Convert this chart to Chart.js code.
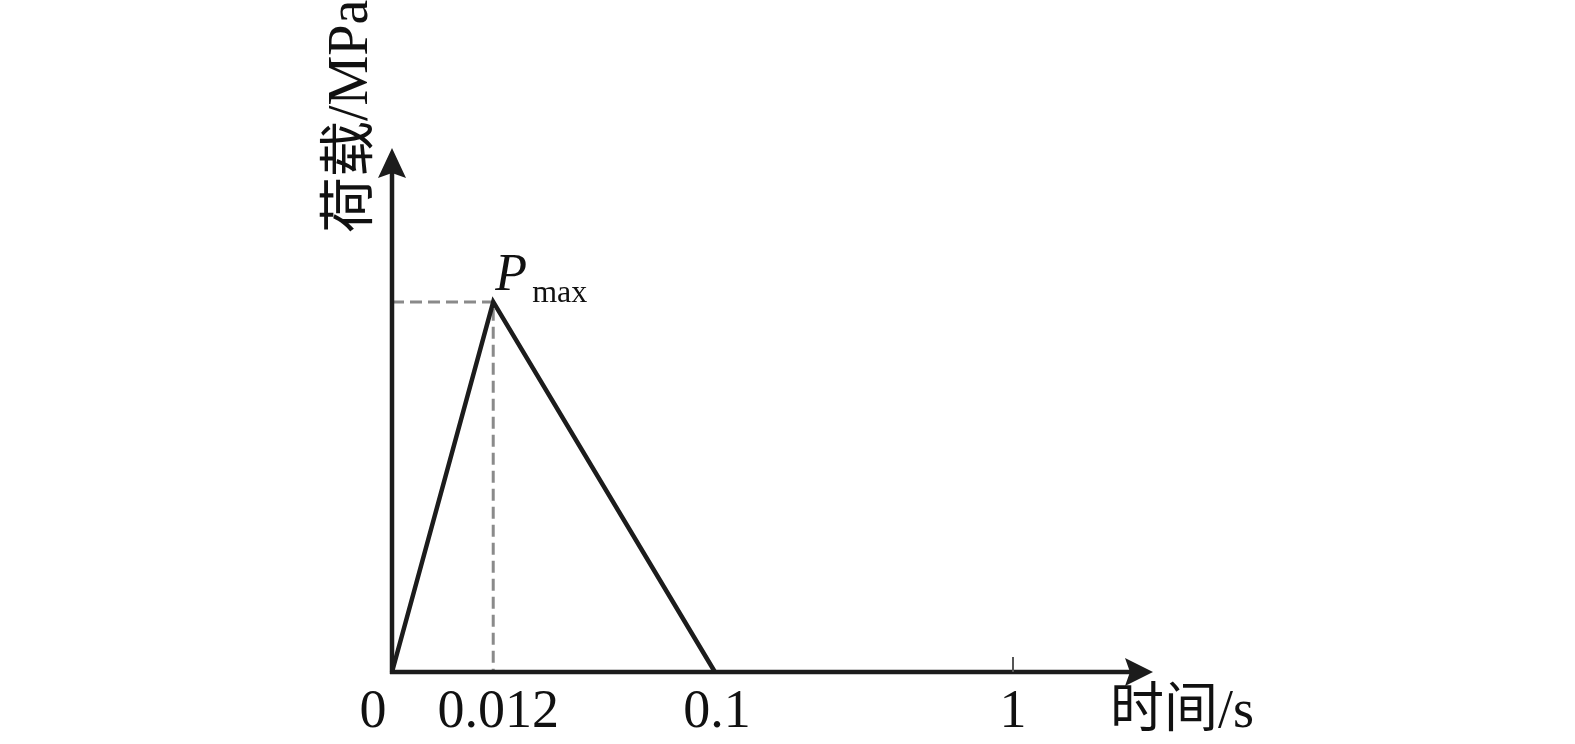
<!DOCTYPE html>
<html>
<head>
<meta charset="utf-8">
<title>荷载-时间</title>
<script src="https://cdn.jsdelivr.net/npm/chart.js@4"></script>
<style>
  html, body { margin: 0; padding: 0; background: #fff; }
  canvas { display: block; }
</style>
</head>
<body>
<canvas id="loadChart" width="1575" height="744"></canvas>
<script>
// time ticks (schematic, not to scale) and where they sit along the axis
const timeLabels = ["0", "0.012", "0.1", "1"];
const timePos = [0, 0.163, 0.52, 1];
// load history, normalised to Pmax
const loadTimes = [0, 0.163, 0.52];
const loadValues = [0, 1, 0];
const pMax = 1;

const serif = '"Liberation Serif", "Times New Roman", serif';
const cjk = '"Liberation Serif", "Noto Sans CJK SC", serif';

function arrow(ctx, x, y, dir) {
  // filled arrowhead, dir "up" or "right"
  ctx.beginPath();
  if (dir === "up") {
    ctx.moveTo(x, y);
    ctx.lineTo(x + 14, y + 30);
    ctx.lineTo(x, y + 25);
    ctx.lineTo(x - 14, y + 30);
  } else {
    ctx.moveTo(x, y);
    ctx.lineTo(x - 28, y + 14);
    ctx.lineTo(x - 23, y);
    ctx.lineTo(x - 28, y - 14);
  }
  ctx.closePath();
  ctx.fill();
}

const axesPlugin = {
  id: "axesPlugin",
  afterDatasetsDraw(chart) {
    const { ctx, chartArea, scales } = chart;
    const x0 = scales.x.getPixelForValue(0);
    const y0 = scales.y.getPixelForValue(0);
    ctx.save();
    ctx.strokeStyle = "#1c1c1c";
    ctx.fillStyle = "#1c1c1c";
    ctx.lineWidth = 4.5;
    ctx.lineCap = "butt";

    // y axis
    ctx.beginPath();
    ctx.moveTo(x0, y0 + 2);
    ctx.lineTo(x0, chartArea.top + 10);
    ctx.stroke();
    arrow(ctx, x0, chartArea.top, "up");

    // x axis
    ctx.beginPath();
    ctx.moveTo(x0 - 2, y0);
    ctx.lineTo(chartArea.right - 10, y0);
    ctx.stroke();
    arrow(ctx, chartArea.right, y0, "right");

    // tick mark at 1
    const x1 = scales.x.getPixelForValue(timePos[3]);
    ctx.lineWidth = 2;
    ctx.strokeStyle = "#555";
    ctx.beginPath();
    ctx.moveTo(x1, y0 - 15);
    ctx.lineTo(x1, y0);
    ctx.stroke();

    // tick labels
    const labelShift = [-19, 5, 2, 0];
    ctx.fillStyle = "#111";
    ctx.font = "54px " + serif;
    ctx.textAlign = "center";
    ctx.textBaseline = "alphabetic";
    timeLabels.forEach((t, i) => {
      ctx.fillText(t, scales.x.getPixelForValue(timePos[i]) + labelShift[i], y0 + 55);
    });

    // x title
    ctx.textAlign = "left";
    ctx.font = "54px " + cjk;
    ctx.fillText("时间/s", 1110, y0 + 55);

    // y title, rotated
    ctx.save();
    ctx.translate(367, 233);
    ctx.rotate(-Math.PI / 2);
    ctx.textAlign = "left";
    ctx.font = "56px " + cjk;
    ctx.fillText("荷载/MPa", 0, 0);
    ctx.restore();

    // Pmax label
    const px = scales.x.getPixelForValue(loadTimes[1]);
    const py = scales.y.getPixelForValue(pMax);
    ctx.font = "italic 52px " + serif;
    ctx.fillText("P", px + 2, py - 12);
    ctx.font = "32px " + serif;
    ctx.fillText("max", px + 39, py);
    ctx.restore();
  }
};

new Chart(document.getElementById("loadChart"), {
  type: "line",
  data: {
    datasets: [
      {
        data: loadTimes.map((t, i) => ({ x: t, y: loadValues[i] })),
        borderColor: "#1c1c1c",
        borderWidth: 4.5,
        pointRadius: 0,
        tension: 0,
        fill: false,
        clip: false,
        order: 1
      },
      {
        data: [{ x: 0, y: pMax }, { x: loadTimes[1], y: pMax }, { x: loadTimes[1], y: 0 }],
        borderColor: "#8a8a8a",
        borderWidth: 3,
        borderDash: [12, 6],
        pointRadius: 0,
        tension: 0,
        fill: false,
        clip: false,
        order: 2
      }
    ]
  },
  options: {
    responsive: false,
    animation: false,
    layout: { padding: { left: 392, right: 422, top: 148, bottom: 72 } },
    plugins: { legend: { display: false }, tooltip: { enabled: false } },
    scales: {
      x: { type: "linear", min: 0, max: 1.2254, display: false },
      y: { type: "linear", min: 0, max: 1.416, display: false }
    }
  },
  plugins: [axesPlugin]
});
</script>
</body>
</html>
